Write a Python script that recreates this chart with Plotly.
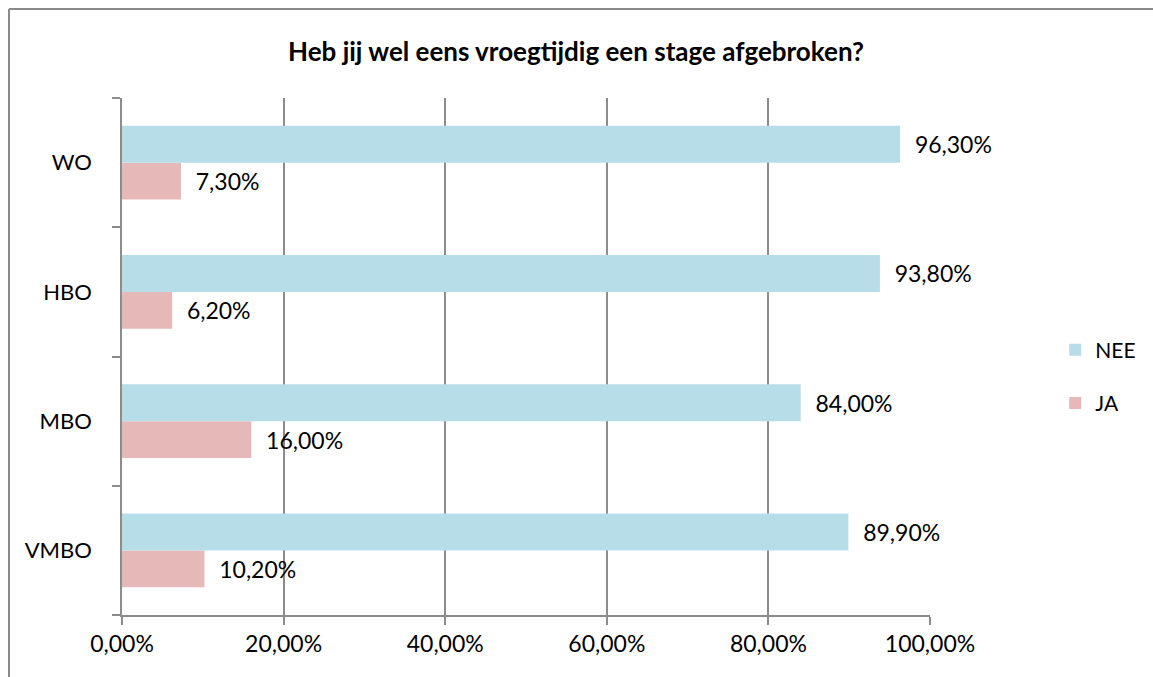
import plotly.graph_objects as go

categories = ["VMBO", "MBO", "HBO", "WO"]
nee = [89.9, 84.0, 93.8, 96.3]
ja = [10.2, 16.0, 6.2, 7.3]
x_ticks = [0, 20, 40, 60, 80, 100]
x_ticktext = ["0,00%", "20,00%", "40,00%", "60,00%", "80,00%", "100,00%"]

FONT = "Lato, Calibri, Carlito, sans-serif"
GAP = "\u00a0\u00a0"  # space between bar end and its label

fig = go.Figure()
# horizontal grouped bars: first trace is drawn lowest within each group
fig.add_trace(go.Bar(
    y=categories, x=ja, name="JA", orientation="h",
    marker=dict(color="#E6B9B8", line=dict(width=0)),
    texttemplate=GAP + "%{x:.2f}%", textposition="outside",
    textfont=dict(size=23, color="black", family=FONT),
    cliponaxis=False, legendgroup="ja", legendrank=2,
))
fig.add_trace(go.Bar(
    y=categories, x=nee, name="NEE", orientation="h",
    marker=dict(color="#B7DDE8", line=dict(width=0)),
    texttemplate=GAP + "%{x:.2f}%", textposition="outside",
    textfont=dict(size=23, color="black", family=FONT),
    cliponaxis=False, legendgroup="nee", legendrank=1,
))

fig.update_layout(
    width=1153, height=677,
    margin=dict(l=122, r=223, t=98, b=62),
    paper_bgcolor="white", plot_bgcolor="white",
    separators=",.",
    font=dict(family=FONT, size=23, color="black"),
    title=dict(text="<b>Heb jij wel eens vroegtijdig een stage afgebroken?</b>",
               x=576 / 1153, xref="container", xanchor="center",
               y=1 - 52 / 677, yanchor="middle",
               font=dict(size=26, family=FONT, color="black")),
    barmode="group", bargap=0.43, bargroupgap=0.0,
    legend=dict(x=1.155, y=0.461, xanchor="left", yanchor="middle",
                traceorder="grouped", tracegroupgap=23,
                font=dict(size=21, family=FONT), bgcolor="rgba(0,0,0,0)"),
    showlegend=True,
)

fig.update_xaxes(
    range=[0, 100], tickvals=x_ticks, ticktext=x_ticktext,
    showgrid=True, gridcolor="#8C8C8C", gridwidth=1.5,
    showline=True, linecolor="#8C8C8C", linewidth=1.5,
    ticks="outside", ticklen=8, tickcolor="#8C8C8C", tickwidth=1.5,
    tickfont=dict(size=23, family=FONT, color="black"),
    zeroline=False, fixedrange=True,
)
fig.update_yaxes(
    range=[-0.5, 3.5], tickson="boundaries",
    showgrid=False, showline=True, linecolor="#8C8C8C", linewidth=1.5,
    ticks="outside", ticklen=8, tickcolor="#8C8C8C", tickwidth=1.5,
    tickfont=dict(size=22, family=FONT, color="black"),
    ticklabelstandoff=24, fixedrange=True,
)

# chart area frame: only the top and left edges fall inside the picture
frame = dict(color="#8A8A8A", width=2)
left = (9 - 122) / 808
top = (615 - 9) / 517
fig.add_shape(type="line", xref="paper", yref="paper",
              x0=left, x1=(1170 - 122) / 808, y0=top, y1=top,
              line=frame, layer="below")
fig.add_shape(type="line", xref="paper", yref="paper",
              x0=left, x1=left, y0=top, y1=(615 - 700) / 517,
              line=frame, layer="below")

# drop the default page margin so the figure fills the window exactly
fig.write_html("out.html", config={"displayModeBar": False}, post_script=(
    "document.body.style.margin='0';"
    "document.documentElement.style.overflow='hidden';"
))
